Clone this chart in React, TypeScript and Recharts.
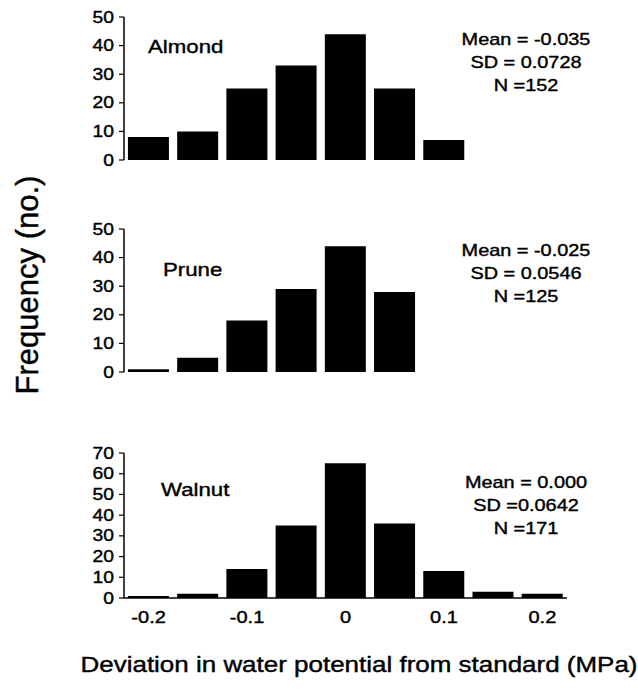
import React from "react";
import { BarChart, Bar, XAxis, YAxis } from "recharts";

const binCenters = [-0.2, -0.15, -0.1, -0.05, 0, 0.05, 0.1, 0.15, 0.2];
const almondCounts = [8, 10, 25, 33, 44, 25, 7, 0, 0];
const pruneCounts = [1, 5, 18, 29, 44, 28, 0, 0, 0];
const walnutCounts = [1, 2, 14, 35, 65, 36, 13, 3, 2];
const xTickLabels = ["-0.2", "-0.1", "0", "0.1", "0.2"];
const yTicks50 = [0, 10, 20, 30, 40, 50];
const yTicks70 = [0, 10, 20, 30, 40, 50, 60, 70];

const almondStats = ["Mean = -0.035", "SD = 0.0728", "N =152"];
const pruneStats = ["Mean = -0.025", "SD = 0.0546", "N =125"];
const walnutStats = ["Mean = 0.000", "SD =0.0642", "N =171"];

const FONT = "'Liberation Sans', Arial, sans-serif";
const STRETCH = 1.17;
const HEAVY = "0.4px #000";

const toRows = (counts: number[]) =>
  binCenters.map((b, i) => ({ bin: b, count: counts[i] }));

type PanelProps = {
  counts: number[];
  top: number;
  height: number;
  yTicks: number[];
  showX: boolean;
  bottom: number;
};

const YTick = (props: any) => {
  const { x, y, payload } = props;
  return (
    <text
      transform={`translate(${x},${y}) scale(${STRETCH},1)`}
      x={0}
      y={0}
      textAnchor="end"
      dominantBaseline="central"
      style={{ fontFamily: FONT, fontSize: 16.5 }}
      fill="#000"
      stroke="#000"
      strokeWidth={0.4}
    >
      {payload.value}
    </text>
  );
};

const XTick = (props: any) => {
  const { x, y, payload } = props;
  const s = String(payload.value);
  if (!xTickLabels.includes(s)) return null;
  return (
    <text
      transform={`translate(${x},${y + 12}) scale(1.25,1)`}
      x={0}
      y={0}
      textAnchor="middle"
      dominantBaseline="central"
      style={{ fontFamily: FONT, fontSize: 16 }}
      fill="#000"
      stroke="#000"
      strokeWidth={0.4}
    >
      {s}
    </text>
  );
};

const Panel = ({ counts, top, height, yTicks, showX, bottom }: PanelProps) => (
  <div style={{ position: "absolute", left: 0, top, width: 638, height }}>
    <BarChart
      width={638}
      height={height}
      data={toRows(counts)}
      margin={{ top: 17, right: 71, bottom, left: 0 }}
      barCategoryGap="8%"
    >
      <XAxis
        dataKey="bin"
        type="category"
        interval={0}
        height={showX ? 30 : 0}
        tickLine={false}
        axisLine={{ stroke: "#000", strokeWidth: 1.5 }}
        tick={showX ? <XTick /> : false}
      />
      <YAxis
        width={124}
        domain={[0, yTicks[yTicks.length - 1]]}
        ticks={yTicks}
        interval={0}
        tickSize={5}
        tickMargin={5}
        tickLine={{ stroke: "#000", strokeWidth: 1.2 }}
        axisLine={{ stroke: "#000", strokeWidth: 1.5 }}
        tick={<YTick />}
      />
      <Bar dataKey="count" fill="#000" isAnimationActive={false} />
    </BarChart>
  </div>
);

const Stats = ({ lines, cx, top }: { lines: string[]; cx: number; top: number }) => (
  <div
    style={{
      position: "absolute",
      left: cx - 100,
      top,
      width: 200,
      textAlign: "center",
      fontFamily: FONT,
      fontSize: 17,
      lineHeight: "23px",
      color: "#000",
      transform: `scaleX(${STRETCH})`,
      WebkitTextStroke: HEAVY,
    }}
  >
    {lines.map((l) => (
      <div key={l}>{l}</div>
    ))}
  </div>
);

const Name = ({ text, left, top }: { text: string; left: number; top: number }) => (
  <div
    style={{
      position: "absolute",
      left,
      top,
      fontFamily: FONT,
      fontSize: 19,
      lineHeight: "22px",
      color: "#000",
      transform: `scaleX(${STRETCH})`,
      transformOrigin: "left center",
      WebkitTextStroke: HEAVY,
    }}
  >
    {text}
  </div>
);

export default function App() {
  return (
    <div
      style={{
        position: "absolute",
        left: 0,
        top: 0,
        width: 638,
        height: 690,
        background: "#fff",
        overflow: "hidden",
      }}
    >
      <Panel counts={almondCounts} top={0} height={180} yTicks={yTicks50} showX={false} bottom={20} />
      <Panel counts={pruneCounts} top={212} height={180} yTicks={yTicks50} showX={false} bottom={20} />
      <Panel counts={walnutCounts} top={436} height={200} yTicks={yTicks70} showX={true} bottom={8} />

      <Name text="Almond" left={148} top={36} />
      <Name text="Prune" left={163} top={259} />
      <Name text="Walnut" left={161} top={479} />

      <Stats lines={almondStats} cx={526} top={28} />
      <Stats lines={pruneStats} cx={526} top={239} />
      <Stats lines={walnutStats} cx={526} top={471} />

      <div
        style={{
          position: "absolute",
          left: 28 - 150,
          top: 285 - 18,
          width: 300,
          height: 36,
          lineHeight: "36px",
          textAlign: "center",
          transform: "rotate(-90deg)",
          fontFamily: FONT,
          fontSize: 31,
          color: "#000",
          WebkitTextStroke: HEAVY,
        }}
      >
        Frequency (no.)
      </div>

      <div
        style={{
          position: "absolute",
          left: 0,
          top: 651,
          width: 638,
          textAlign: "center",
          paddingLeft: 80,
          boxSizing: "border-box",
          fontFamily: FONT,
          fontSize: 22,
          lineHeight: "28px",
          color: "#000",
          whiteSpace: "nowrap",
          WebkitTextStroke: HEAVY,
        }}
      >
        <span style={{ display: "inline-block", transform: "scaleX(1.18)" }}>
          Deviation in water potential from standard (MPa)
        </span>
      </div>
    </div>
  );
}
